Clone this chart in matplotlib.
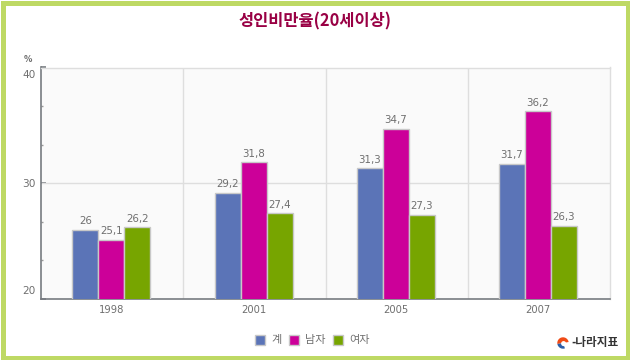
import numpy as np
import matplotlib
matplotlib.use("Agg")
import matplotlib.pyplot as plt
from matplotlib.patches import Rectangle, Wedge, Circle
from matplotlib.transforms import ScaledTranslation

plt.rcParams['font.family'] = ['Noto Sans CJK KR', 'DejaVu Sans']

years = ['1998', '2001', '2005', '2007']
series_names = ['계', '남자', '여자']
total = [26, 29.2, 31.3, 31.7]
male = [25.1, 31.8, 34.7, 36.2]
female = [26.2, 27.4, 27.3, 26.3]
total_labels = ['26', '29,2', '31,3', '31,7']
male_labels = ['25,1', '31,8', '34,7', '36,2']
female_labels = ['26,2', '27,4', '27,3', '26,3']
colors = ['#5b74b7', '#cc0099', '#77a500']
yticks = [20, 30, 40]

W, H = 630, 360
GRAY = '#6f6f6f'


def px_x(x):
    return x / W


def px_y(y):
    return 1 - y / H


fig = plt.figure(figsize=(W / 100, H / 100), dpi=100, facecolor='white')

# outer green frame
fig.patches.append(Rectangle((2.5 / W, 2.5 / H), (W - 5) / W, (H - 5) / H, transform=fig.transFigure,
                             fill=False, ec='#bed964', lw=3.6))

ax = fig.add_axes([px_x(41), px_y(299), (610 - 41) / W, (299 - 67.5) / H], facecolor='#fafafa')
ax.set_xlim(0, 4)
ax.set_ylim(20, 40)

ax.set_axisbelow(True)
ax.vlines([1, 2, 3], 20, 40, color='#dedede', lw=1, zorder=1)
ax.hlines(30, 0, 4, color='#dedede', lw=1, zorder=1)

x = np.arange(4) + 0.5
bw = 26 / (569 / 4)
all_vals = [total, male, female]
all_labels = [total_labels, male_labels, female_labels]
for i in range(3):
    xs = x + (i - 1) * bw - 0.006
    ax.bar(xs, all_vals[i], bottom=0, width=bw, color=colors[i], edgecolor='#c8c8c8', lw=1, zorder=3)
    for xx, v, s in zip(xs, all_vals[i], all_labels[i]):
        ax.annotate(s, (xx, v), xytext=(0, 2.6), textcoords='offset points', ha='center', va='bottom',
                    fontsize=7.4, color=GRAY, family='DejaVu Sans', zorder=4)

for s in ['top', 'right']:
    ax.spines[s].set_color('#dedede')
    ax.spines[s].set_linewidth(1)
for s in ['left', 'bottom']:
    ax.spines[s].set_color('#777b80')
    ax.spines[s].set_linewidth(1.2)

ax.set_xticks(x - 0.006, years, family='DejaVu Sans')
ax.tick_params(axis='x', length=0, pad=4, labelsize=7.2, labelcolor=GRAY)
ax.set_yticks(yticks)
ax.set_yticks([23.33, 26.67, 33.33, 36.67], minor=True)
ax.tick_params(axis='y', which='major', direction='in', length=3.6, width=1.2, color='#777b80',
               labelsize=7.6, labelcolor=GRAY, pad=4)
ax.tick_params(axis='y', which='minor', direction='in', length=1.6, width=1, color='#999999')
labels = ax.get_yticklabels()
for t in labels:
    t.set_family('DejaVu Sans')
labels[0].set_va('bottom')
labels[2].set_va('top')
# the end labels sit a little inside the axis range
labels[0].set_transform(labels[0].get_transform() + ScaledTranslation(0, 3 / 100, fig.dpi_scale_trans))
labels[2].set_transform(labels[2].get_transform() + ScaledTranslation(0, -3 / 100, fig.dpi_scale_trans))

fig.text(px_x(28), px_y(59), '%', fontsize=6, fontweight='bold', color=GRAY, ha='center', va='center',
         family='DejaVu Sans')
fig.text(px_x(315), px_y(21), '성인비만율(20세이상)', fontsize=11.8, fontweight='bold', color='#990044',
         ha='center', va='center')

# legend, placed by hand like the original
legend_x = [254.5, 288.5, 333]
text_x = [271, 305, 349]
for lx, tx, name, c in zip(legend_x, text_x, series_names, colors):
    fig.patches.append(Rectangle((px_x(lx), px_y(345)), 10 / W, 10 / H, transform=fig.transFigure,
                                 fc=c, ec='#c8c8c8', lw=1))
    fig.text(px_x(tx), px_y(339.5), name, fontsize=8, color=GRAY, ha='left', va='center')

# 나라지표 logo
logo = fig.add_axes([px_x(557), px_y(349), 12 / W, 12 / H])
logo.set_xlim(-1, 1)
logo.set_ylim(-1, 1)
logo.axis('off')
logo.add_patch(Circle((0, 0), 0.95, fc='white', ec='none'))
logo.add_patch(Wedge((0, 0), 0.95, 10, 190, fc='#f04b16', ec='none'))
logo.add_patch(Wedge((0, 0), 0.95, 190, 290, fc='#2b5ea8', ec='none'))
logo.add_patch(Circle((0.1, -0.1), 0.42, fc='white', ec='none'))
fig.text(px_x(571), px_y(342.5), '-나라지표', fontsize=8.4, fontweight='bold', color='#333333',
         ha='left', va='center')

fig.savefig('out.png', dpi=100)
